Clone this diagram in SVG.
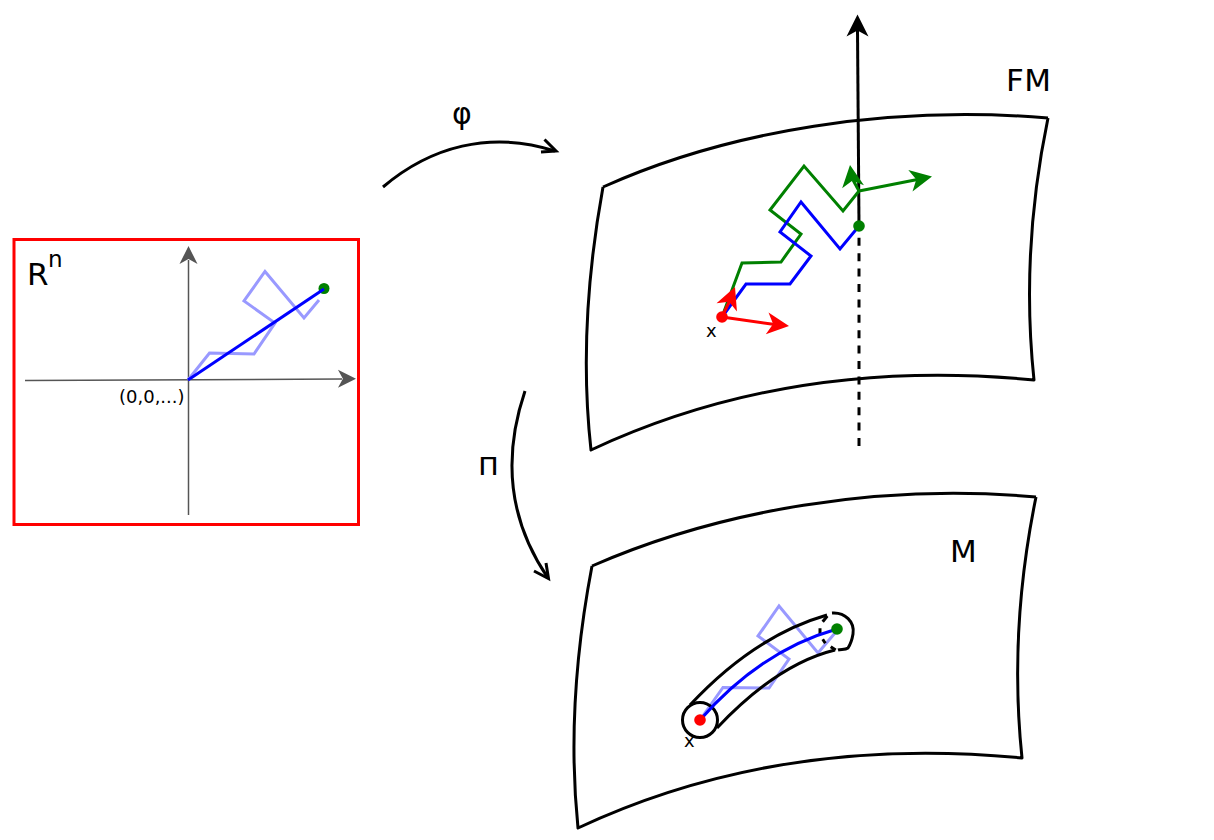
<svg xmlns="http://www.w3.org/2000/svg" width="1214" height="840" viewBox="0 0 1214 840">
<style>
text{font-family:"DejaVu Sans",sans-serif;fill:#000}
.sheet{fill:none;stroke:#000;stroke-width:3;stroke-linejoin:round}
.big{font-size:31px}
.small{font-size:18px}
.axis{fill:none;stroke:#555;stroke-width:1.5}
.light{fill:none;stroke:#9999ff;stroke-width:3}
.blue{fill:none;stroke:#0000ff;stroke-width:3}
.green{fill:none;stroke:#008000;stroke-width:3}
.red{fill:none;stroke:#ff0000;stroke-width:3}
.blk{fill:none;stroke:#000;stroke-width:3}
.tube{fill:none;stroke:#000;stroke-width:3}
</style>
<defs>
<path id="head" d="M0,0 L-22,11 L-16,0 L-22,-11 Z"/>
</defs>
<g id="rn-frame"><rect x="14" y="239.500" width="344.500" height="285" fill="none" stroke="#ff0000" stroke-width="3"/>
<text x="27" y="285" style="font-size:31px">R</text><text x="48" y="267" style="font-size:23px">n</text></g>
<g id="rn-axes">
<path class="axis" d="M25,380.500 L342,379"/>
<path class="axis" d="M188.500,515 L188.500,260"/>
<use href="#head" transform="translate(356,378.800) scale(0.82)" fill="#555"/>
<use href="#head" transform="translate(188.500,246) rotate(-90) scale(0.82)" fill="#555"/>
<text x="119" y="403" style="font-size:18px">(0,0,...)</text>
</g>
<g id="rn-paths">
<path class="light" d="M188,380 L209.500,353 L254,354 L275,323 L244,301 L265,271.500 L304,318 L319,300"/>
<circle cx="324" cy="288.500" r="5.500" fill="#008000"/>
<path class="blue" d="M188,380 L324,289"/>
</g>
<g id="connectors">
<path class="blk" d="M383,187 C430,147 490,130 555,151"/>
<path class="blk" d="M544.500,139.500 L556,151 L541,152"/>
<path class="blk" d="M525,391 C505,450 505,515 548,578"/>
<path class="blk" d="M546,563 L548.500,578.500 L534,571"/>
</g>
<g id="fm-sheet">
<path class="sheet" d="M603,187 C730,130 890,105 1048,118 M1048,118 C1030,205 1025,295 1034,380 C880,365 730,385 591,450 C581,360 587,275 603,187"/>
<text class="big" x="1006" y="91" style="letter-spacing:.5px">FM</text>
</g>
<g id="fiber">
<path class="blk" d="M859,226 L857.500,30"/>
<use href="#head" transform="translate(857.500,14.500) rotate(-90)"/>
<path d="M859,446 L859,232" fill="none" stroke="#000" stroke-width="3" stroke-dasharray="8,7.400"/>
</g>
<g id="fm-paths">
<path class="green" d="M722,317 L742,263 L781,262 L801,234 L770,210 L804,166 L843,211 L859,191"/>
<path class="blue" d="M722,317 L746,284 L790,284 L811,256 L780,232 L801,202 L840,249 L859,226"/>
<path class="green" d="M859,191 L920,179"/><use href="#head" transform="translate(932,176.500) rotate(-11)" fill="#008000"/>
<path class="green" d="M859,191 L853,180"/><use href="#head" transform="translate(850,165) rotate(-98)" fill="#008000"/>
<path class="red" d="M722,317 L730,300"/><use href="#head" transform="translate(735,287) rotate(-68)" fill="#ff0000"/>
<path class="red" d="M722,317 L775,324.500"/><use href="#head" transform="translate(789,326) rotate(7)" fill="#ff0000"/>
<circle cx="722" cy="317" r="5.800" fill="#ff0000"/>
<circle cx="859" cy="226" r="5.800" fill="#008000"/>
<text x="706" y="337" class="small">x</text>
</g>
<g id="m-sheet">
<path class="sheet" d="M592,566 C720,510 880,483 1036,497 M1036,497 C1018,585 1013,672 1022,758 C868,743 717,763 578,828 C569,740 575,655 592,566"/>
<text class="big" x="950" y="562">M</text>
</g>
<g id="m-tube">
<path class="light" d="M700,720 L723,687.500 L769,688 L789,659 L758,636 L779,606 L818,653 L835,633"/>
<circle class="tube" cx="700" cy="720" r="17.500"/>
<path class="tube" d="M690,705 C730,662 775,630 827,615"/>
<path class="tube" d="M717,728 C750,693 790,661 835,650"/>
<path class="tube" d="M832,613 C845,612 855,622 853,634 C852,640 850,645 848,648 C845,650 841,649 838,650"/>
<path class="tube" d="M827.300,616 L822.700,621.700 M820,628.300 L820,635 M822.700,639.300 L825.300,643.300 M830.700,646.700 L835.700,650"/>
<path class="blue" d="M700,720 C735,680 780,645 837,629"/>
<circle cx="700" cy="720" r="5.800" fill="#ff0000"/>
<circle cx="837" cy="629" r="5.800" fill="#008000"/>
<text x="684" y="747" class="small">x</text>
</g>
<g id="labels">
<text x="452" y="124" style="font-size:30px">φ</text>
<text x="478" y="475" style="font-size:32px">п</text>
</g>
</svg>
